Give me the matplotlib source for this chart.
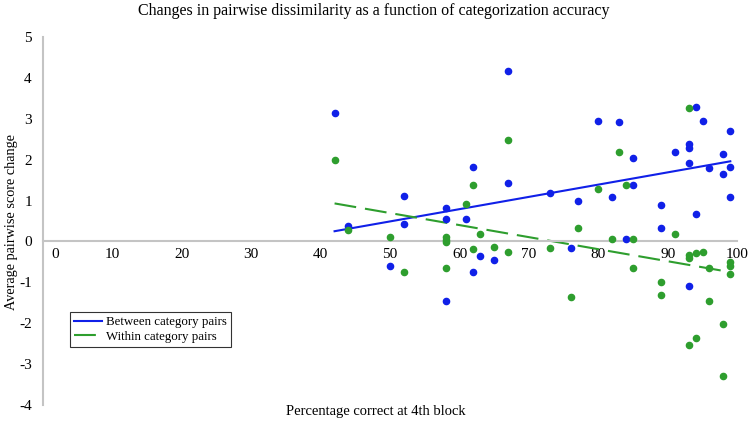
import numpy as np
import matplotlib
matplotlib.use('Agg')
from matplotlib import pyplot as plt

plt.rcParams['font.family'] = ['Liberation Serif', 'DejaVu Serif']
plt.rcParams['axes.unicode_minus'] = False

# 各被试第4组的正确率及两类配对的平均得分变化
x_between = [42, 44, 50, 52, 52, 58, 58, 58, 61, 62, 62, 63, 65, 67, 67,
             73, 76, 77, 80, 82, 83, 84, 85, 85, 89, 89, 91,
             93, 93, 93, 93, 94, 94, 95, 96, 98, 98, 99, 99, 99]
y_between = [3.15, 0.37, -0.60, 1.12, 0.42, 0.83, 0.56, -1.45, 0.56, 1.83, -0.74, -0.35, -0.46, 4.17, 1.43,
             1.18, -0.15, 0.98, 2.95, 1.09, 2.91, 0.06, 2.04, 1.37, 0.88, 0.32, 2.19,
             2.39, 2.28, 1.93, -1.10, 3.30, 0.67, 2.95, 1.79, 2.14, 1.64, 2.71, 1.81, 1.08]

x_within = [42, 44, 50, 52, 58, 58, 58, 58, 61, 62, 62, 63, 65, 67, 67,
            73, 76, 77, 80, 82, 83, 84, 85, 85, 89, 89, 91,
            93, 93, 93, 93, 94, 94, 95, 96, 96, 98, 98, 99, 99, 99]
y_within = [1.99, 0.27, 0.10, -0.74, 0.10, 0.04, -0.02, -0.64, 0.91, 1.37, -0.19, 0.17, -0.14, 2.49, -0.25,
            -0.15, -1.35, 0.32, 1.28, 0.06, 2.18, 1.37, 0.06, -0.64, -0.99, -1.31, 0.17,
            3.26, -0.34, -0.40, -2.53, -0.29, -2.37, -0.25, -0.64, -1.45, -2.02, -3.28, -0.50, -0.60, -0.80]

# 趋势线两端
trend_x = [42, 99]
trend_between = [0.25, 1.96]
trend_within = [0.93, -0.75]

x_ticks = [0, 10, 20, 30, 40, 50, 60, 70, 80, 90, 100]
x_labels = ['', '10', '20', '30', '40', '50', '60', '70', '80', '90', '100']
y_ticks = [-4, -3, -2, -1, 0, 1, 2, 3, 4, 5]

blue = '#1020e8'
green = '#2e9e2e'

fig = plt.figure(figsize=(7.5, 4.23), dpi=100)
ax = fig.add_axes([0.0573, 0.0426, 0.9257, 0.8699])

ax.scatter(x_between, y_between, s=20, color=blue, zorder=3)
ax.scatter(x_within, y_within, s=20, color=green, zorder=3)

ax.plot(trend_x, trend_between, color=blue, lw=1.5, label='Between category pairs', zorder=2)
ax.plot(trend_x, trend_within, color=green, lw=1.5, dashes=(10.5, 4.3),
        label='Within category pairs', zorder=2)

ax.set_xlim(0, 100)
ax.set_ylim(-4, 5)
ax.set_xticks(x_ticks)
ax.set_xticklabels(x_labels)
ax.set_yticks(y_ticks)
ax.tick_params(length=0, labelsize=11)
ax.tick_params(axis='x', pad=5)
ax.tick_params(axis='y', pad=8)
# 横轴的"0"往右挪一点，避开纵轴
ax.annotate('0', xy=(0, 0), xycoords='data', xytext=(9, -5), textcoords='offset points',
            ha='center', va='top', fontsize=11)

for s in ['top', 'right']:
    ax.spines[s].set_visible(False)
ax.spines['bottom'].set_position(('data', 0))
ax.spines['bottom'].set_color('#c4c4c4')
ax.spines['left'].set_color('#c4c4c4')
ax.spines['bottom'].set_linewidth(1.5)
ax.spines['left'].set_linewidth(1.5)

fig.text(0.499, 0.975, 'Changes in pairwise dissimilarity as a function of categorization accuracy',
         ha='center', va='center', fontsize=11.5)
fig.text(0.501, 0.028, 'Percentage correct at 4th block', ha='center', va='center', fontsize=10.5)
fig.text(0.015, 0.475, 'Average pairwise score change', ha='center', va='center',
         rotation=90, fontsize=10.3)

leg = ax.legend(loc='upper left', bbox_to_anchor=(0.0933, 0.262), bbox_transform=fig.transFigure,
                fontsize=9.3, frameon=True, fancybox=False, handlelength=2.2,
                borderpad=0.3, labelspacing=0.2, handletextpad=0.3, borderaxespad=0)
leg.get_frame().set_edgecolor('black')
leg.get_frame().set_linewidth(0.8)

fig.savefig('out.png', dpi=100)
